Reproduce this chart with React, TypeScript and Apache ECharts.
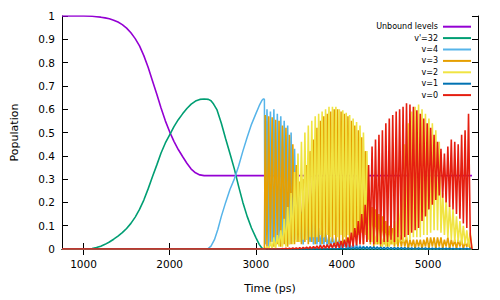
import React, { useEffect, useRef } from "react";
import * as echarts from "echarts";

// ---- data ----
const X_TICKS = [1000, 2000, 3000, 4000, 5000];
const SERIES_NAMES = ["Unbound levels", "v'=32", "v=4", "v=3", "v=2", "v=1", "v=0"];
const SERIES_COLORS = ["#9400d3", "#009e73", "#56b4e9", "#e69f00", "#f0e442", "#0072b2", "#e51e10"];

// smooth curves: [time (ps), population]
const UNBOUND = [
  [750, 1], [1000, 1], [1100, 0.999], [1150, 0.997], [1200, 0.995], [1250, 0.992],
  [1300, 0.988], [1350, 0.982], [1400, 0.974], [1450, 0.963], [1500, 0.948], [1550, 0.928],
  [1600, 0.903], [1650, 0.872], [1700, 0.83], [1750, 0.78], [1800, 0.722], [1850, 0.665],
  [1900, 0.605], [1950, 0.55], [2000, 0.503], [2050, 0.462], [2100, 0.427], [2150, 0.397],
  [2200, 0.368], [2250, 0.343], [2300, 0.327], [2350, 0.318], [2400, 0.315], [5510, 0.315],
];
const V32 = [
  [750, 0], [1050, 0], [1100, 0.002], [1150, 0.006], [1200, 0.012], [1250, 0.02],
  [1300, 0.03], [1350, 0.042], [1400, 0.055], [1450, 0.07], [1500, 0.088], [1550, 0.11],
  [1600, 0.137], [1650, 0.17], [1700, 0.21], [1750, 0.258], [1800, 0.31], [1850, 0.36],
  [1900, 0.412], [1950, 0.455], [2000, 0.49], [2050, 0.525], [2100, 0.555], [2150, 0.58],
  [2200, 0.603], [2250, 0.622], [2300, 0.635], [2350, 0.642], [2400, 0.644], [2450, 0.642],
  [2480, 0.636], [2510, 0.622], [2550, 0.597], [2600, 0.54], [2650, 0.473], [2700, 0.41],
  [2750, 0.345], [2800, 0.27], [2850, 0.2], [2900, 0.14], [2950, 0.09], [3000, 0.05],
  [3040, 0.02], [3070, 0.004], [3090, 0], [5510, 0],
];
const V4_RISE = [
  [750, 0], [2440, 0], [2480, 0.012], [2520, 0.04], [2560, 0.085], [2600, 0.14],
  [2650, 0.2], [2700, 0.255], [2750, 0.3], [2800, 0.355], [2850, 0.42], [2900, 0.48],
  [2950, 0.535], [3000, 0.58], [3040, 0.615], [3070, 0.637], [3090, 0.645], [3100, 0.642],
  [3106, 0.02],
];
const ZERO_LEAD = [[750, 0], [3100, 0]];

// fast oscillations, sampled every OSC_STEP ps from OSC_START
const OSC_START = 3110;
const OSC_STEP = 20;
const V4_OSC = [
  0.02, 0.60, 0.01, 0.59, 0.03, 0.60, 0.02, 0.58, 0.03, 0.57,
  0.02, 0.55, 0.03, 0.53, 0.02, 0.50, 0.03, 0.43, 0.04, 0.30,
  0.03, 0.16, 0.02, 0.14, 0.04, 0.13, 0.03, 0.12, 0.02, 0.11,
  0.02, 0.09, 0.01, 0.08, 0.02, 0.07, 0.01, 0.06, 0.01, 0.05,
  0.01, 0.05, 0.01, 0.04, 0.00, 0.035, 0.01, 0.03, 0.00, 0.025,
  0.00, 0.02, 0.00, 0.02, 0.00, 0.015, 0.00, 0.012, 0.00, 0.01,
  0, 0.01, 0, 0.008, 0, 0.008, 0, 0.006, 0, 0.006,
  0, 0.005, 0, 0.005, 0, 0.005, 0, 0.004, 0, 0.004,
  0, 0.004, 0, 0.004, 0, 0.003, 0, 0.003, 0, 0.003,
  0, 0.003, 0, 0.003, 0, 0.003, 0, 0.003, 0, 0.003,
  0, 0.003, 0, 0.003, 0, 0.003, 0, 0.003, 0, 0.003,
  0, 0.003, 0, 0.003, 0, 0.003, 0, 0.003, 0, 0.003,
  0,
];
const V3_OSC = [
  0.575, 0.01, 0.57, 0.02, 0.565, 0.01, 0.555, 0.02, 0.55, 0.01,
  0.53, 0.02, 0.52, 0.01, 0.49, 0.02, 0.45, 0.02, 0.36, 0.03,
  0.29, 0.02, 0.30, 0.03, 0.36, 0.02, 0.42, 0.03, 0.47, 0.02,
  0.52, 0.03, 0.55, 0.02, 0.57, 0.03, 0.58, 0.02, 0.59, 0.03,
  0.60, 0.02, 0.60, 0.03, 0.59, 0.02, 0.58, 0.03, 0.57, 0.02,
  0.55, 0.03, 0.53, 0.02, 0.51, 0.03, 0.48, 0.02, 0.42, 0.03,
  0.20, 0.02, 0.18, 0.01, 0.17, 0.02, 0.15, 0.01, 0.14, 0.02,
  0.12, 0.01, 0.10, 0.02, 0.09, 0.01, 0.08, 0.01, 0.06, 0.01,
  0.05, 0.01, 0.05, 0.00, 0.04, 0.01, 0.04, 0.00, 0.04, 0.01,
  0.04, 0.00, 0.04, 0.01, 0.05, 0.00, 0.05, 0.01, 0.05, 0.00,
  0.05, 0.01, 0.05, 0.00, 0.04, 0.01, 0.05, 0.00, 0.04, 0.01,
  0.04, 0.00, 0.04, 0.01, 0.04, 0.00, 0.03, 0.01, 0.03, 0.00,
  0,
];
const V2_OSC = [
  0.00, 0.01, 0.00, 0.03, 0.00, 0.05, 0.00, 0.06, 0.01, 0.08,
  0.01, 0.13, 0.01, 0.18, 0.02, 0.24, 0.02, 0.33, 0.03, 0.41,
  0.03, 0.46, 0.04, 0.50, 0.04, 0.53, 0.05, 0.55, 0.05, 0.57,
  0.05, 0.58, 0.06, 0.59, 0.05, 0.60, 0.06, 0.61, 0.05, 0.61,
  0.06, 0.61, 0.05, 0.60, 0.06, 0.595, 0.05, 0.585, 0.06, 0.575,
  0.07, 0.56, 0.07, 0.545, 0.06, 0.53, 0.07, 0.50, 0.06, 0.42,
  0.04, 0.16, 0.03, 0.10, 0.02, 0.08, 0.02, 0.07, 0.01, 0.06,
  0.01, 0.06, 0.01, 0.08, 0.02, 0.12, 0.02, 0.20, 0.03, 0.32,
  0.03, 0.45, 0.04, 0.54, 0.04, 0.59, 0.05, 0.61, 0.05, 0.62,
  0.05, 0.60, 0.06, 0.58, 0.06, 0.56, 0.07, 0.54, 0.08, 0.51,
  0.08, 0.46, 0.07, 0.24, 0.06, 0.21, 0.05, 0.19, 0.04, 0.17,
  0.03, 0.14, 0.03, 0.12, 0.02, 0.10, 0.02, 0.08, 0.01, 0.07,
  0,
];
const V1_OSC = [
  0, 0, 0, 0, 0, 0, 0, 0, 0, 0,
  0, 0, 0, 0, 0, 0, 0, 0, 0, 0,
  0, 0.001, 0, 0.001, 0, 0.001, 0, 0.001, 0, 0.002,
  0, 0.002, 0, 0.002, 0, 0.002, 0, 0.003, 0, 0.003,
  0, 0.003, 0, 0.004, 0, 0.004, 0, 0.005, 0, 0.006,
  0, 0.007, 0, 0.008, 0, 0.009, 0, 0.01, 0, 0.01,
  0, 0.01, 0, 0.01, 0, 0.009, 0, 0.009, 0, 0.008,
  0, 0.008, 0, 0.007, 0, 0.007, 0, 0.006, 0, 0.006,
  0, 0.006, 0, 0.005, 0, 0.005, 0, 0.005, 0, 0.005,
  0, 0.005, 0, 0.005, 0, 0.004, 0, 0.004, 0, 0.004,
  0, 0.004, 0, 0.004, 0, 0.004, 0, 0.004, 0, 0.003,
  0, 0.003, 0, 0.003, 0, 0.003, 0, 0.003, 0, 0.003,
  0,
];
const V0_OSC = [
  0, 0, 0, 0, 0, 0, 0, 0, 0, 0,
  0.002, 0, 0.003, 0, 0.003, 0, 0.004, 0, 0.005, 0,
  0.006, 0, 0.007, 0.001, 0.008, 0.001, 0.01, 0.001, 0.011, 0.002,
  0.013, 0.002, 0.015, 0.002, 0.017, 0.003, 0.019, 0.003, 0.022, 0.004,
  0.026, 0.004, 0.03, 0.005, 0.035, 0.006, 0.04, 0.007, 0.05, 0.008,
  0.07, 0.01, 0.09, 0.015, 0.12, 0.02, 0.15, 0.02, 0.19, 0.03,
  0.36, 0.03, 0.44, 0.02, 0.47, 0.03, 0.49, 0.02, 0.51, 0.03,
  0.54, 0.03, 0.56, 0.04, 0.575, 0.03, 0.59, 0.05, 0.60, 0.04,
  0.61, 0.05, 0.625, 0.06, 0.62, 0.07, 0.61, 0.08, 0.595, 0.09,
  0.58, 0.12, 0.56, 0.14, 0.54, 0.17, 0.52, 0.19, 0.49, 0.21,
  0.46, 0.23, 0.43, 0.22, 0.41, 0.20, 0.44, 0.18, 0.47, 0.17,
  0.46, 0.15, 0.45, 0.13, 0.49, 0.11, 0.51, 0.09, 0.58, 0.06,
  0,
];

const oscPoints = (vals: number[]) => vals.map((v, i) => [OSC_START + i * OSC_STEP, v]);

const FONT = "DejaVu Sans";

export default function App() {
  const ref = useRef<HTMLDivElement>(null);
  useEffect(() => {
    if (!ref.current) return;
    const chart = echarts.init(ref.current, undefined, { renderer: "svg" });

    // [legend name, colour index, data, width]
    const parts: [string, number, number[][], number][] = [
      [SERIES_NAMES[0], 0, UNBOUND, 1.6],
      [SERIES_NAMES[1], 1, V32, 1.6],
      [SERIES_NAMES[2], 2, V4_RISE, 1.5],
      [SERIES_NAMES[2], 2, oscPoints(V4_OSC), 1.6],
      [SERIES_NAMES[3], 3, ZERO_LEAD.concat(oscPoints(V3_OSC)), 1.6],
      [SERIES_NAMES[4], 4, ZERO_LEAD.concat(oscPoints(V2_OSC)), 1.6],
      [SERIES_NAMES[5], 5, ZERO_LEAD.concat(oscPoints(V1_OSC)), 1.3],
      [SERIES_NAMES[6], 6, ZERO_LEAD.concat(oscPoints(V0_OSC)), 1.6],
    ];

    const axisCommon = {
      axisLine: { show: true, lineStyle: { color: "#000", width: 1 } },
      splitLine: { show: false },
    };
    chart.setOption({
      animation: false,
      backgroundColor: "#fff",
      grid: { left: 62, right: 22, top: 16, bottom: 51, containLabel: false },
      legend: {
        orient: "vertical",
        right: 24,
        top: 16,
        align: "right",
        icon: "rect",
        itemWidth: 28,
        itemHeight: 2,
        itemGap: 0,
        data: SERIES_NAMES,
        textStyle: { fontFamily: FONT, fontSize: 8, color: "#000", lineHeight: 11.4 },
      },
      xAxis: [
        {
          type: "value",
          min: 750,
          max: 5580,
          position: "bottom",
          ...axisCommon,
          axisTick: { show: true, inside: true, length: 6, customValues: X_TICKS, lineStyle: { color: "#000" } },
          axisLabel: {
            show: true,
            customValues: X_TICKS,
            formatter: (v: number) => String(v),
            fontFamily: FONT,
            fontSize: 10.5,
            color: "#000",
            margin: 9,
          },
          name: "Time (ps)",
          nameLocation: "middle",
          nameGap: 34,
          nameTextStyle: { fontFamily: FONT, fontSize: 11, color: "#000" },
        },
        {
          type: "value",
          min: 750,
          max: 5580,
          position: "top",
          ...axisCommon,
          axisTick: { show: true, inside: true, length: 6, customValues: X_TICKS, lineStyle: { color: "#000" } },
          axisLabel: { show: false },
        },
      ],
      yAxis: [
        {
          type: "value",
          min: 0,
          max: 1,
          interval: 0.1,
          position: "left",
          ...axisCommon,
          axisTick: { show: true, inside: true, length: 6, lineStyle: { color: "#000" } },
          axisLabel: { fontFamily: FONT, fontSize: 10.5, color: "#000", margin: 7 },
          name: "Population",
          nameLocation: "middle",
          nameGap: 42,
          nameRotate: 90,
          nameTextStyle: { fontFamily: FONT, fontSize: 11, color: "#000" },
        },
        {
          type: "value",
          min: 0,
          max: 1,
          interval: 0.1,
          position: "right",
          ...axisCommon,
          axisTick: { show: true, inside: true, length: 6, lineStyle: { color: "#000" } },
          axisLabel: { show: false },
        },
      ],
      series: parts.map(([name, ci, data, width]) => ({
        name,
        type: "line",
        data,
        xAxisIndex: 0,
        yAxisIndex: 0,
        showSymbol: false,
        symbol: "none",
        color: SERIES_COLORS[ci],
        lineStyle: { width, color: SERIES_COLORS[ci] },
        emphasis: { disabled: true },
        silent: true,
      })),
    });
    return () => chart.dispose();
  }, []);
  return (
    <div
      ref={ref}
      style={{ position: "fixed", left: 0, top: 0, width: 500, height: 300 }}
    />
  );
}
